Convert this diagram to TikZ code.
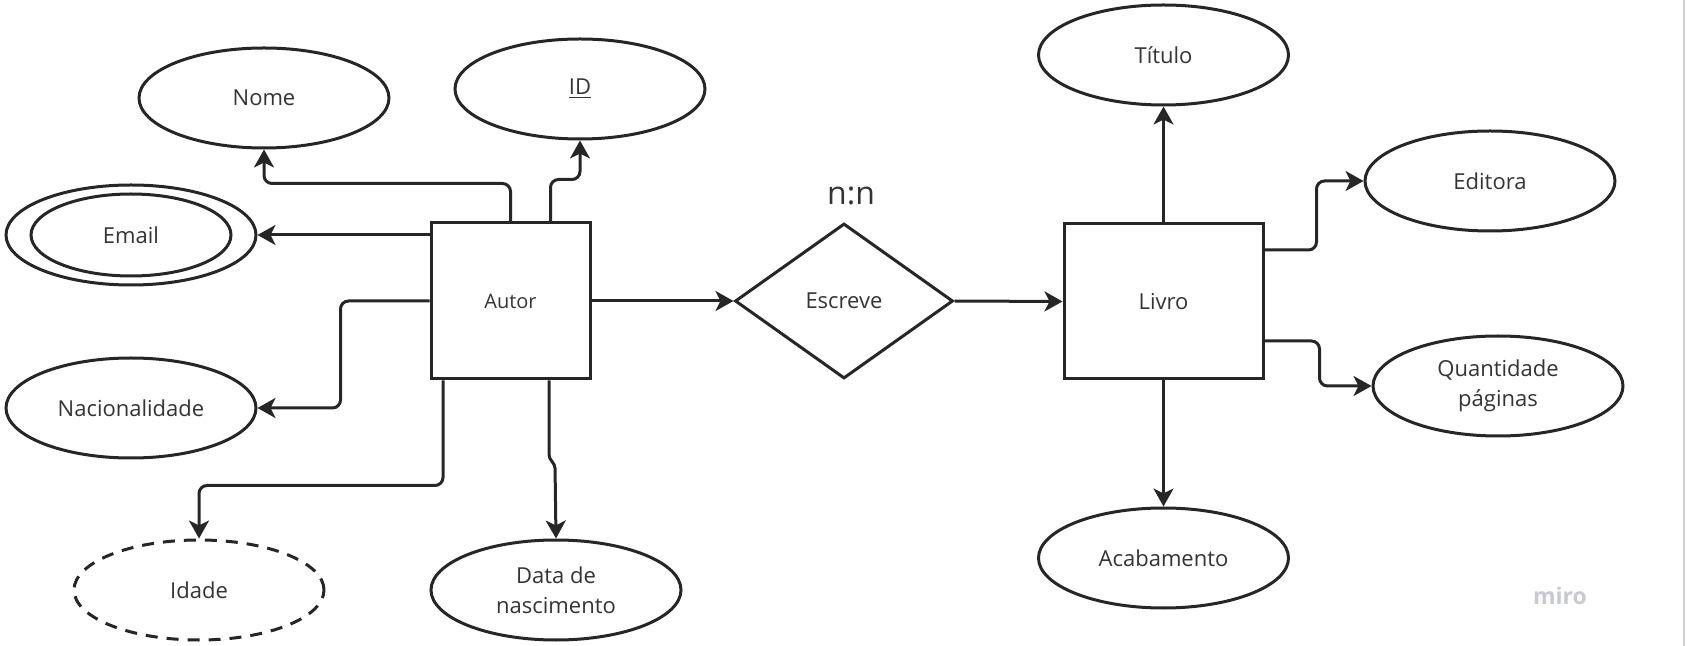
\documentclass[tikz,border=0pt]{standalone}
\usepackage{fontspec}
\setmainfont{Open Sans}
\usepackage{tikz}
\usetikzlibrary{arrows.meta,positioning,shapes.geometric}
\definecolor{erink}{RGB}{38,38,38}
\definecolor{ertext}{RGB}{52,52,52}
\definecolor{ermark}{RGB}{200,200,214}
\definecolor{eredge}{RGB}{205,205,205}
\tikzset{
  erent/.style={draw=erink, line width=1.5pt, rectangle, fill=white, align=center, inner sep=2pt},
  erattr/.style={draw=erink, line width=1.5pt, ellipse, fill=white, align=center, minimum width=125pt, minimum height=50pt, inner sep=0pt},
  erderived/.style={erattr, dashed, dash pattern=on 6pt off 4.5pt},
  errel/.style={draw=erink, line width=1.5pt, diamond, fill=white, align=center, minimum width=109pt, minimum height=77.5pt, inner sep=0pt},
  erarr/.style={-{Stealth[length=9pt, width=10pt, inset=2.5pt]}, line width=1.5pt, draw=erink, rounded corners=4pt},
  erline/.style={line width=1.5pt, draw=erink}
}

\begin{document}
\begin{tikzpicture}[x=0.5pt, y=-0.5pt, font=\fontsize{11}{15}\selectfont, text=ertext]
  \fill[white] (0,0) rectangle (1687,646);
  \useasboundingbox (0,0) rectangle (1687,646);
  \draw[eredge, line width=0.8pt] (1684,0) -- (1684,646);
  % entities and relationship
  \node[erent, minimum width=79.5pt, minimum height=78pt, font=\fontsize{10}{12}\selectfont] (autor) at (510.5,301) {Autor};
  \node[errel] (escreve) at (844,301) {Escreve};
  \node[erent, minimum width=99.5pt, minimum height=77.5pt] (livro) at (1163.5,301.5) {Livro};
  \node[above=5pt of escreve, xshift=3.5pt, font=\fontsize{16}{18}\selectfont] (card) {n:n};
  % attributes of Autor
  \node[erattr] (nome) at (264,98) {Nome};
  \node[erattr] (id) at (580,89) {\underline{ID}};
  \node[erattr] (email) at (131,235) {Email};
  \draw[erline] (email.center) ellipse [x radius=50pt, y radius=20.5pt];
  \node[erattr] (nacionalidade) at (131,408) {Nacionalidade};
  \node[erderived] (idade) at (199,590) {Idade};
  \node[erattr] (nascimento) at (556,590) {Data de\\nascimento};
  % attributes of Livro
  \node[erattr] (titulo) at (1163.5,55) {Título};
  \node[erattr] (editora) at (1490,181) {Editora};
  \node[erattr] (paginas) at (1498,386) {Quantidade\\páginas};
  \node[erattr] (acabamento) at (1163.5,558) {Acabamento};
  \node[font=\bfseries\fontsize{11.5}{13}\selectfont, text=ermark] (miro) at (1560,596) {miro};
  % connectors
  \draw[erarr] (autor.north) -- ++(0,-38) -| (nome.south);
  \draw[erarr] ([xshift=20pt]autor.north) -- ++(0,-42) -| (id.south);
  \draw[erarr] ([yshift=33pt]autor.west) -- (email.east);
  \draw[erarr] (autor.west) -- ++(-89,0) |- (nacionalidade.east);
  \draw[erarr] ([xshift=-33.75pt]autor.south) -- ++(0,105) -| (idade.north);
  \draw[erarr, rounded corners=2pt] ([xshift=19.25pt]autor.south) -- ++(0,78) -- ++(6,6) -- (nascimento.north);
  \draw[erarr] (autor.east) -- (escreve.west);
  \draw[erarr] (escreve.east) -- (livro.west);
  \draw[erarr] (livro.north) -- (titulo.south);
  \draw[erarr] (livro.south) -- (acabamento.north);
  \draw[erarr] ([yshift=25.75pt]livro.east) -- ++(52,0) |- (editora.west);
  \draw[erarr] ([yshift=-19.75pt]livro.east) -- ++(55,0) |- (paginas.west);
\end{tikzpicture}
\end{document}
